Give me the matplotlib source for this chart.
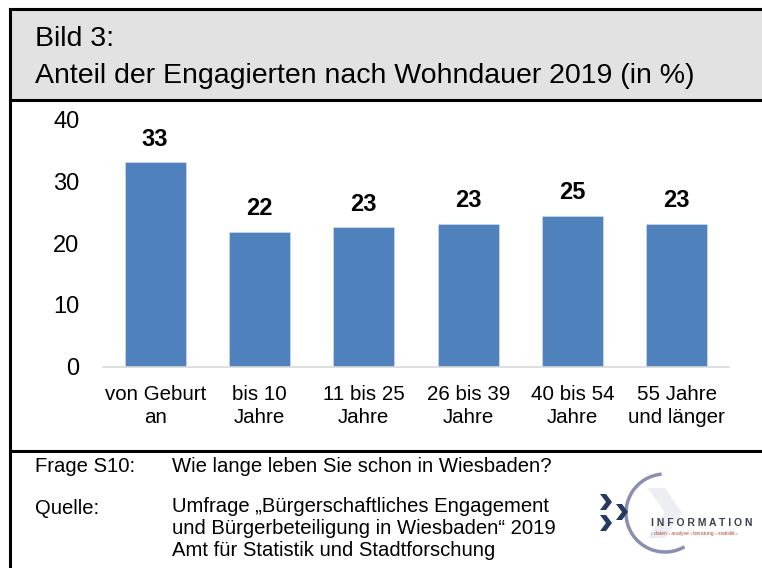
import matplotlib
matplotlib.use("Agg")
import matplotlib.pyplot as plt
from matplotlib.patches import Rectangle, Polygon, Arc

# ---------------------------------------------------------------------------
# Data
# ---------------------------------------------------------------------------
categories = ["von Geburt\nan", "bis 10\nJahre", "11 bis 25\nJahre",
              "26 bis 39\nJahre", "40 bis 54\nJahre", "55 Jahre\nund länger"]
values = [33.2, 21.9, 22.7, 23.2, 24.5, 23.2]
value_labels = ["33", "22", "23", "23", "25", "23"]
y_ticks = [0, 10, 20, 30, 40]

title_line1 = "Bild 3:"
title_line2 = "Anteil der Engagierten nach Wohndauer 2019 (in %)"
footer_keys = ["Frage S10:", "Quelle:"]
footer_vals = ["Wie lange leben Sie schon in Wiesbaden?",
               "Umfrage „Bürgerschaftliches Engagement\n"
               "und Bürgerbeteiligung in Wiesbaden“ 2019\n"
               "Amt für Statistik und Stadtforschung"]

W, H = 762, 568
BAR_COLOR = "#4f81bd"

plt.rcParams["font.family"] = ["Liberation Sans", "DejaVu Sans"]


def px(x, y):
    """Pixel (top-left origin) -> figure fraction."""
    return x / W, 1 - y / H


fig = plt.figure(figsize=(W / 100, H / 100), dpi=100)

# --- frame / header -------------------------------------------------------
fig.patches.append(Rectangle(px(10, 100), (W - 10) / W, 90 / H,
                             transform=fig.transFigure, facecolor="#e2e2e2",
                             edgecolor="none", zorder=0))
for (x0, y0), (x1, y1) in [((10, 9), (W, 9)), ((10, 100), (W, 100)),
                           ((10, 451), (W, 451)), ((10, 9), (10, H))]:
    fig.add_artist(plt.Line2D([px(x0, y0)[0], px(x1, y1)[0]],
                              [px(x0, y0)[1], px(x1, y1)[1]],
                              transform=fig.transFigure, color="black", lw=2.2))

fig.text(*px(35, 39), title_line1, fontsize=20.5, va="center", ha="left")
fig.text(*px(35, 76), title_line2, fontsize=20.5, va="center", ha="left")

# --- chart ----------------------------------------------------------------
ax = fig.add_axes([103 / W, 1 - 366.5 / H, 626 / W, 246.5 / H])
x = range(len(categories))
bars = ax.bar(x, values, width=0.585, color=BAR_COLOR, edgecolor="#c9d7ea",
              linewidth=0.6, zorder=2)
for b, lab in zip(bars, value_labels):
    ax.annotate(lab, (b.get_x() + b.get_width() / 2, b.get_height()),
                xytext=(0, 8), textcoords="offset points", ha="center",
                va="bottom", fontsize=17, fontweight="bold")

ax.set_xlim(-0.5, len(categories) - 0.5)
ax.set_ylim(0, 40)
ax.set_yticks(y_ticks)
ax.set_xticks(list(x))
ax.set_xticklabels(categories, fontsize=14.8, linespacing=1.3)
ax.tick_params(axis="y", length=0, pad=17, labelsize=17)
ax.tick_params(axis="x", length=0, pad=13)
for s in ["top", "right", "left"]:
    ax.spines[s].set_visible(False)
ax.spines["bottom"].set_color("#d9d9d9")
ax.spines["bottom"].set_linewidth(1.2)
ax.patch.set_alpha(0)

# --- footer ---------------------------------------------------------------
fs = 14.6
fig.text(*px(35, 467), footer_keys[0], fontsize=fs, va="center")
fig.text(*px(172, 467), footer_vals[0], fontsize=fs, va="center")
fig.text(*px(35, 508), footer_keys[1], fontsize=fs, va="center")
fig.text(*px(172, 497), footer_vals[1], fontsize=fs, va="top",
         linespacing=1.2)

# --- logo (approximation) -------------------------------------------------
navy = "#243a5e"
for cx, cy in [(604, 502), (620, 512), (604, 523)]:
    pts = [(cx - 4, cy - 8), (cx + 2, cy - 8), (cx + 8, cy), (cx + 2, cy + 8),
           (cx - 4, cy + 8), (cx + 2, cy)]
    fig.patches.append(Polygon([px(a, b) for a, b in pts], closed=True,
                               transform=fig.transFigure, facecolor=navy,
                               edgecolor="none"))
lax = fig.add_axes([px(620, 560)[0], px(620, 560)[1], 90 / W, 90 / H])
lax.set_xlim(0, 90)
lax.set_ylim(0, 90)
lax.axis("off")
lax.add_patch(Arc((45, 47), 78, 78, theta1=95, theta2=300, color="#8a8fb0",
                  lw=2.5))
lax.add_patch(Polygon([(28, 72), (45, 72), (62, 47), (45, 22), (28, 22),
                       (45, 47)], closed=True, facecolor="#eceef3",
                      edgecolor="none"))
fig.text(*px(651, 523), "I N F O R M A T I O N", fontsize=7.5,
         fontweight="bold", color="#3a3f4f", va="center")
fig.text(*px(651, 533), "› daten › analyse › beratung › statistik ›",
         fontsize=3.6, color="#b04a3a", va="center")

fig.savefig("out.png", dpi=100)
